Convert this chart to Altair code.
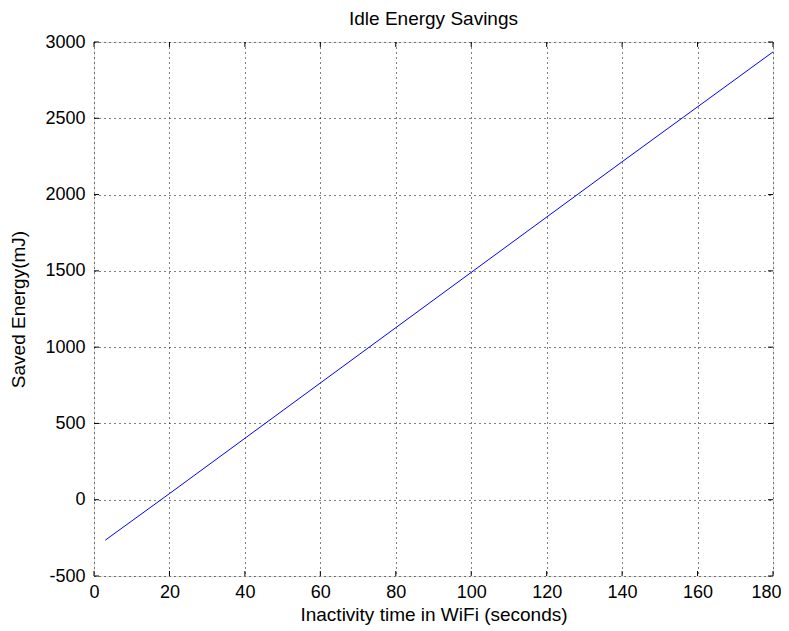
import altair as alt
import pandas as pd

# data
inactivity_s = [3, 20, 60, 100, 140, 180]
saved_mJ = [-265, 40, 765, 1490, 2215, 2935]
x_ticks = [0, 20, 40, 60, 80, 100, 120, 140, 160, 180]
y_ticks = [-500, 0, 500, 1000, 1500, 2000, 2500, 3000]

W, H = 679, 534
FONT = "Liberation Sans"

df = pd.DataFrame({"x": inactivity_s, "y": saved_mJ})
xt = pd.DataFrame({"v": x_ticks})
yt = pd.DataFrame({"v": y_ticks})

xscale = alt.Scale(domain=[0, 180], nice=False, zero=False)
yscale = alt.Scale(domain=[-500, 3000], nice=False, zero=False)

base_axis = dict(labelFont=FONT, titleFont=FONT, labelFontSize=18, titleFontSize=19,
                 labelColor="#000", titleColor="#000", domain=False, ticks=False,
                 grid=True, gridColor="#000", gridDash=[1, 4], gridWidth=1, gridOpacity=1,
                 titleFontWeight="normal", labelExpr="'' + datum.value",
                 labelOverlap=False, labelBound=False, labelFlush=False)

line = alt.Chart(df).mark_line(color="#0000ff", strokeWidth=1).encode(
    x=alt.X("x:Q", scale=xscale,
            axis=alt.Axis(values=x_ticks, title="Inactivity time in WiFi (seconds)",
                          labelPadding=7, titlePadding=4,
                          labelAlign=alt.ExprRef(expr="datum.value == 180 ? 'right' : 'center'"),
                          labelOffset=alt.ExprRef(expr="datum.value == 180 ? 8 : 0"),
                          **base_axis)),
    y=alt.Y("y:Q", scale=yscale,
            axis=alt.Axis(values=y_ticks, title="Saved Energy(mJ)", labelPadding=9,
                          titlePadding=16, **base_axis)),
)

tick_style = dict(color="#000", strokeWidth=1)
xt_bottom = alt.Chart(xt).mark_rule(**tick_style).encode(
    x=alt.X("v:Q", scale=xscale), y=alt.value(H), y2=alt.value(H - 5))
xt_top = alt.Chart(xt).mark_rule(**tick_style).encode(
    x=alt.X("v:Q", scale=xscale), y=alt.value(0), y2=alt.value(5))
yt_left = alt.Chart(yt).mark_rule(**tick_style).encode(
    y=alt.Y("v:Q", scale=yscale), x=alt.value(0), x2=alt.value(5))
yt_right = alt.Chart(yt).mark_rule(**tick_style).encode(
    y=alt.Y("v:Q", scale=yscale), x=alt.value(W), x2=alt.value(W - 5))

chart = alt.layer(line, xt_bottom, xt_top, yt_left, yt_right).properties(
    width=W, height=H,
    title=alt.TitleParams("Idle Energy Savings", font=FONT, fontSize=19,
                          fontWeight="normal", color="#000", offset=4),
    autosize=alt.AutoSizeParams(type="none"),
    padding={"left": 86, "top": 34, "right": 8, "bottom": 50},
).configure_view(stroke="#000", strokeWidth=1.5).configure(background="white")

chart.save("out.html", embed_options={"renderer": "svg", "actions": False})
